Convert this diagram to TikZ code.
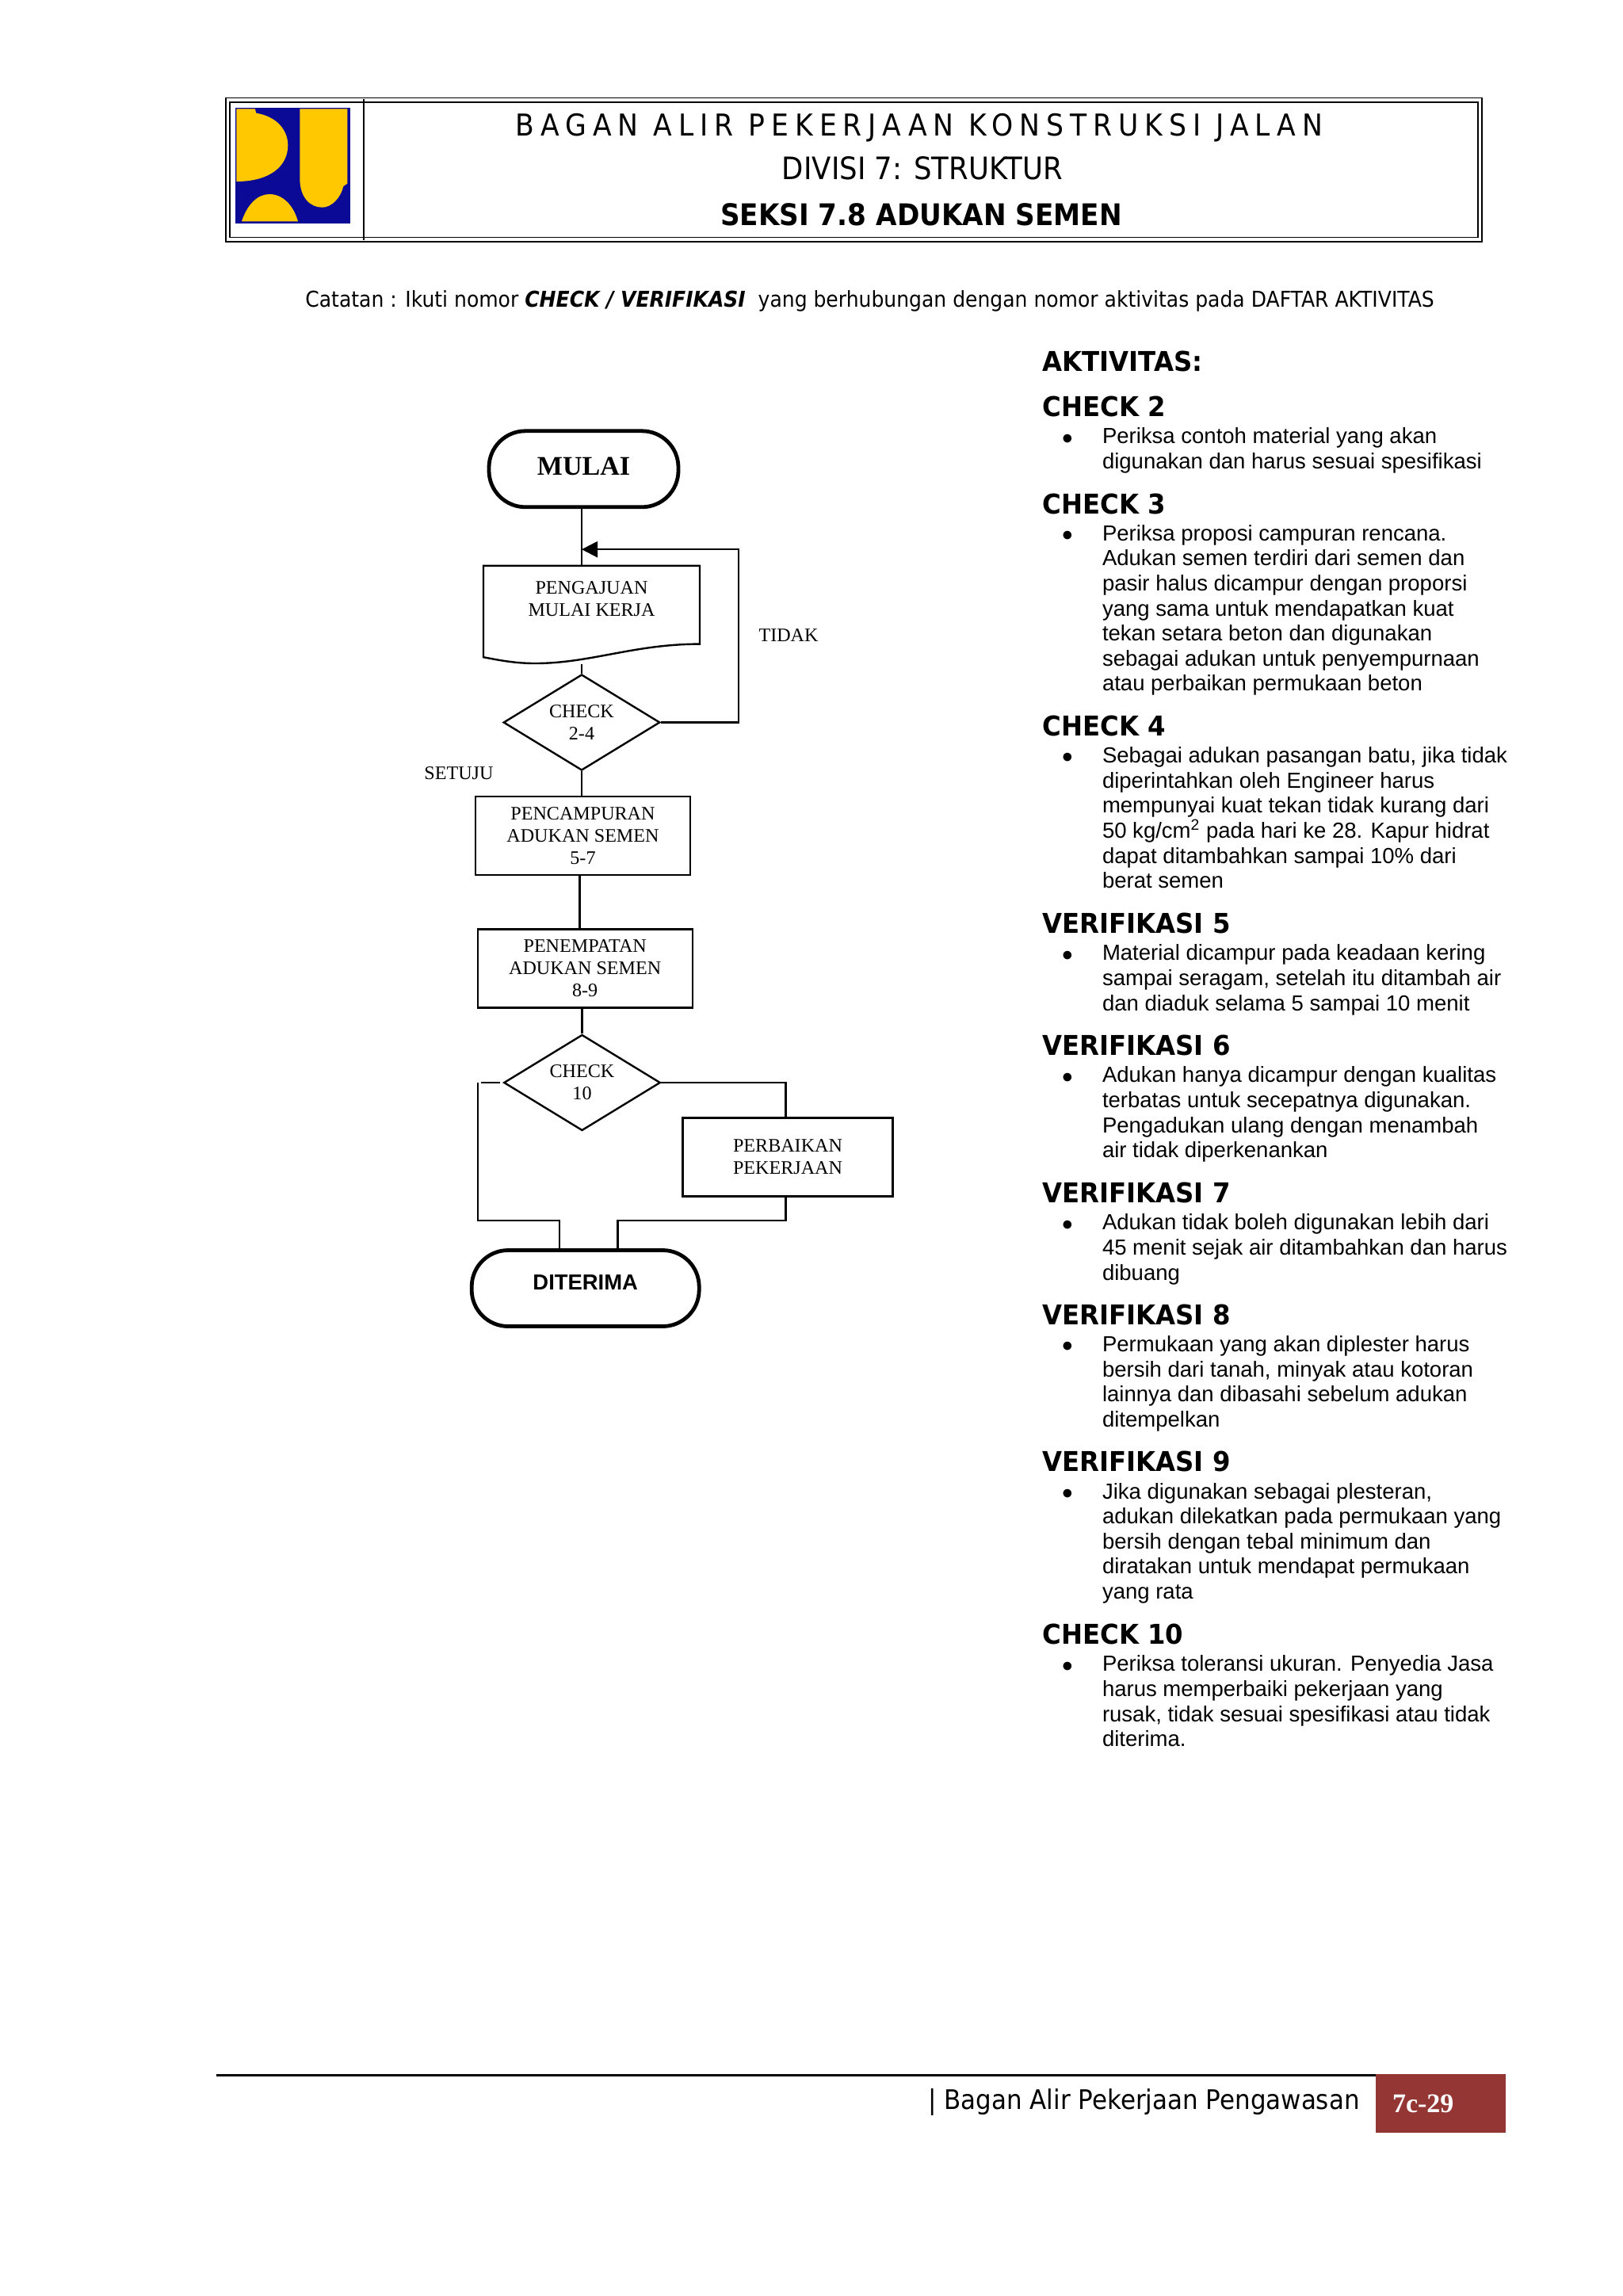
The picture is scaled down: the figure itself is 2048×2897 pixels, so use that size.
\documentclass[tikz,border=0pt]{standalone}
\usepackage{fontspec}
\setmainfont{Liberation Serif}
\setsansfont{Liberation Sans}
\newfontfamily\tahfont[FakeStretch=0.91]{DejaVu Sans}
\newfontfamily\tahwide[FakeStretch=0.91,LetterSpace=21]{DejaVu Sans}
\newfontfamily\verfont[FakeStretch=0.94]{DejaVu Sans}
\usetikzlibrary{arrows.meta,positioning,shapes.geometric}
\definecolor{pubiru}{HTML}{0A0A96}
\definecolor{pukuning}{HTML}{FFC800}
\definecolor{pumerah}{HTML}{943634}

\begin{document}
\begin{tikzpicture}[
  x=0.5pt, y=-0.5pt,
  font=\rmfamily\fontsize{12.05}{14}\selectfont,
  flow/.style={draw=black, line width=1.2pt},
  term/.style={flow, line width=2.4pt, rounded corners=23pt, minimum width=119.5pt, minimum height=48pt, inner sep=0pt},
  boxa/.style={flow, minimum width=135.5pt, minimum height=49.5pt, inner sep=0pt, align=center},
  chk/.style={flow, diamond, aspect=1.6, minimum width=98.75pt, minimum height=60.5pt, inner sep=0pt, align=center},
  lbl/.style={anchor=base, inner sep=0pt},
  hdr/.style={anchor=base, inner sep=0pt},
  akthead/.style={anchor=base west, inner sep=0pt, font=\verfont\bfseries\fontsize{17.2}{20}\selectfont},
  aktbody/.style={inner sep=0pt, align=left, font=\sffamily\fontsize{13.76}{15.8}\selectfont, execute at begin node=\strut,
    label={[inner sep=0pt, anchor=north, xshift=-21.4pt, font=\sffamily\fontsize{13.76}{15.8}\selectfont]north west:\strut\raisebox{-2pt}{\fontsize{19.5}{15.8}\selectfont\textbullet}}},
]
  \useasboundingbox (0,0) rectangle (2048,2897);

  \node[draw, line width=0.9pt, double, double distance=1.7pt, minimum width=790pt, minimum height=88pt] (hdrbox) at (1077.7,214) {};
  \coordinate (hdrsep) at (459,214);
  \draw[line width=1pt] (hdrsep |- hdrbox.north) -- (hdrsep |- hdrbox.south);
  \fill[pubiru] (296.7,135.7) rectangle (442.3,281.7);
  \fill[pukuning] (298.3,137.3) -- (321.7,137.3) -- (323.3,142.7) .. controls (350,147) and (363.3,165) .. (363.3,183.3) .. controls (363.3,210) and (340,229) .. (298.3,229) -- cycle;
  \fill[pukuning] (378.3,137.3) -- (438.3,137.3) -- (438.3,231.7) -- (433.3,235) .. controls (430,250) and (418,261.7) .. (406.7,261.7) .. controls (392,261.7) and (378.3,250) .. (378.3,225) -- cycle;
  \fill[pukuning] (305,279.3) .. controls (312,258) and (325,245) .. (340,245) .. controls (356,245) and (370,258) .. (376,279.3) -- cycle;

  \node[hdr, font=\tahwide\fontsize{19}{22}\selectfont] (hdra) at (1160,171.7) {BAGAN ALIR PEKERJAAN KONSTRUKSI JALAN};
  \node[hdr, font=\tahfont\fontsize{19.5}{22}\selectfont] (hdrb) at (1164,226) {DIVISI 7: STRUKTUR};
  \node[hdr, font=\tahfont\bfseries\fontsize{18.8}{22}\selectfont] (hdrc) at (1162.5,284.3) {SEKSI 7.8 ADUKAN SEMEN};
  \node[hdr, font=\tahfont\fontsize{13.76}{16}\selectfont] (catatan) at (1097.5,387.7) {Catatan : Ikuti nomor \textbf{\textit{CHECK / VERIFIKASI}}\ \ yang berhubungan dengan nomor aktivitas pada DAFTAR AKTIVITAS};

  \node[term, font=\rmfamily\bfseries\fontsize{17}{20}\selectfont, text depth=3.8pt] (mulai) at (736.5,591.8) {MULAI};
  \coordinate (docnw) at (610,713.8);
  \coordinate (docne) at (883,713.8);
  \coordinate (docse) at (883,812.6);
  \coordinate (doclow) at (675,837);
  \coordinate (docsw) at (610,829.2);
  \draw[flow] (docnw) -- (docne) -- (docse) .. controls (800,812.6) and (745,837) .. (doclow) .. controls (650,837) and (630,833) .. (docsw) -- cycle;
  \node[align=center, inner sep=0pt] (doc) at (746.5,755.7) {PENGAJUAN\\MULAI KERJA};
  \node[chk] (chka) at (734,911.5) {CHECK\\2-4};
  \node[boxa] (pencampuran) at (735.5,1054.4) {PENCAMPURAN\\ADUKAN SEMEN\\5-7};
  \node[boxa] (penempatan) at (738.2,1222) {PENEMPATAN\\ADUKAN SEMEN\\8-9};
  \node[chk] (chkb) at (734.5,1366) {CHECK\\10};
  \node[boxa, minimum width=132.5pt] (perbaikan) at (994,1459.8) {PERBAIKAN\\PEKERJAAN};
  \node[term, minimum width=143.5pt, font=\sffamily\bfseries\fontsize{13.7}{18}\selectfont, text depth=7.5pt] (diterima) at (738.7,1625.5) {DITERIMA};
  \node[lbl] (tidak) at (995,809.4) {TIDAK};
  \node[lbl] (setuju) at (579,983.4) {SETUJU};

  \coordinate (loopin) at (734,693.2);
  \coordinate (loopa) at (932,693.2);
  \coordinate (loopb) at (932,911.5);
  \coordinate (docout) at (734,838.3);
  \coordinate (boxlink) at (731.4,1054.4);
  \coordinate (leftup) at (603,1366);
  \coordinate (leftdown) at (603,1539.7);
  \coordinate (leftin) at (705.7,1539.7);
  \coordinate (rightup) at (991.4,1366);
  \coordinate (rightdown) at (991.4,1539.7);
  \coordinate (rightin) at (779.6,1539.7);

  \draw[flow] (mulai.south -| chka.north) -- (docnw -| chka.north);
  \draw[flow, -{Triangle[length=10pt,width=10pt]}] (chka.east) -- (loopb) -- (loopa) -- (loopin);
  \draw[flow] (docout) -- (chka.north);
  \draw[flow] (chka.south) -- (pencampuran.north -| chka.south);
  \draw[flow] (pencampuran.south -| boxlink) -- (penempatan.north -| boxlink);
  \draw[flow] (penempatan.south -| chkb.north) -- (chkb.north);
  \draw[flow] (chkb.east) -- (rightup) -- (perbaikan.north -| rightup);
  \draw[flow] (perbaikan.south -| rightup) -- (rightdown) -- (rightin) -- (rightin |- diterima.north);
  \draw[flow, shorten <=2pt, shorten >=2pt] (chkb.west) -- (leftup);
  \draw[flow] (leftup) -- (leftdown) -- (leftin) -- (leftin |- diterima.north);

  \node[akthead] (haktivitas) at (1315,468) {AKTIVITAS:};
  \node[akthead] (hcheckb) at (1315,525.6) {CHECK 2};
  \node[aktbody, below right=7pt and 37.8pt of hcheckb.base west] (bcheckb) {Periksa contoh material yang akan\\digunakan dan harus sesuai spesifikasi};
  \node[akthead] (hcheckc) at (1315,648) {CHECK 3};
  \node[aktbody, below right=7pt and 37.8pt of hcheckc.base west] (bcheckc) {Periksa proposi campuran rencana.\\Adukan semen terdiri dari semen dan\\pasir halus dicampur dengan proporsi\\yang sama untuk mendapatkan kuat\\tekan setara beton dan digunakan\\sebagai adukan untuk penyempurnaan\\atau perbaikan permukaan beton};
  \node[akthead] (hcheckd) at (1315,928.3) {CHECK 4};
  \node[aktbody, below right=7pt and 37.8pt of hcheckd.base west] (bcheckd) {Sebagai adukan pasangan batu, jika tidak\\diperintahkan oleh Engineer harus\\mempunyai kuat tekan tidak kurang dari\\50 kg/cm\textsuperscript{2} pada hari ke 28. Kapur hidrat\\dapat ditambahkan sampai 10\% dari\\berat semen};
  \node[akthead] (hverife) at (1315,1177.6) {VERIFIKASI 5};
  \node[aktbody, below right=7pt and 37.8pt of hverife.base west] (bverife) {Material dicampur pada keadaan kering\\sampai seragam, setelah itu ditambah air\\dan diaduk selama 5 sampai 10 menit};
  \node[akthead] (hveriff) at (1315,1331.6) {VERIFIKASI 6};
  \node[aktbody, below right=7pt and 37.8pt of hveriff.base west] (bveriff) {Adukan hanya dicampur dengan kualitas\\terbatas untuk secepatnya digunakan.\\Pengadukan ulang dengan menambah\\air tidak diperkenankan};
  \node[akthead] (hverifg) at (1315,1517.5) {VERIFIKASI 7};
  \node[aktbody, below right=7pt and 37.8pt of hverifg.base west] (bverifg) {Adukan tidak boleh digunakan lebih dari\\45 menit sejak air ditambahkan dan harus\\dibuang};
  \node[akthead] (hverifh) at (1315,1671.4) {VERIFIKASI 8};
  \node[aktbody, below right=7pt and 37.8pt of hverifh.base west] (bverifh) {Permukaan yang akan diplester harus\\bersih dari tanah, minyak atau kotoran\\lainnya dan dibasahi sebelum adukan\\ditempelkan};
  \node[akthead] (hverifi) at (1315,1856.8) {VERIFIKASI 9};
  \node[aktbody, below right=7pt and 37.8pt of hverifi.base west] (bverifi) {Jika digunakan sebagai plesteran,\\adukan dilekatkan pada permukaan yang\\bersih dengan tebal minimum dan\\diratakan untuk mendapat permukaan\\yang rata};
  \node[akthead] (hcheckj) at (1315,2074.5) {CHECK 10};
  \node[aktbody, below right=7pt and 37.8pt of hcheckj.base west] (bcheckj) {Periksa toleransi ukuran. Penyedia Jasa\\harus memperbaiki pekerjaan yang\\rusak, tidak sesuai spesifikasi atau tidak\\diterima.};

  \coordinate (ruleleft) at (273,2618);
  \node[fill=pumerah, text=white, minimum height=37pt, inner xsep=10.5pt, text width=61pt, align=left, font=\rmfamily\bfseries\fontsize{17}{20}\selectfont] (halaman) at (1818,2654) {7c-29};
  \draw[line width=1.5pt] (ruleleft) -- (ruleleft -| halaman.west);
  \node[hdr, anchor=base east, font=\tahfont\fontsize{17}{20}\selectfont] (footer) at (1716,2661.7) {| Bagan Alir Pekerjaan Pengawasan};
\end{tikzpicture}
\end{document}
